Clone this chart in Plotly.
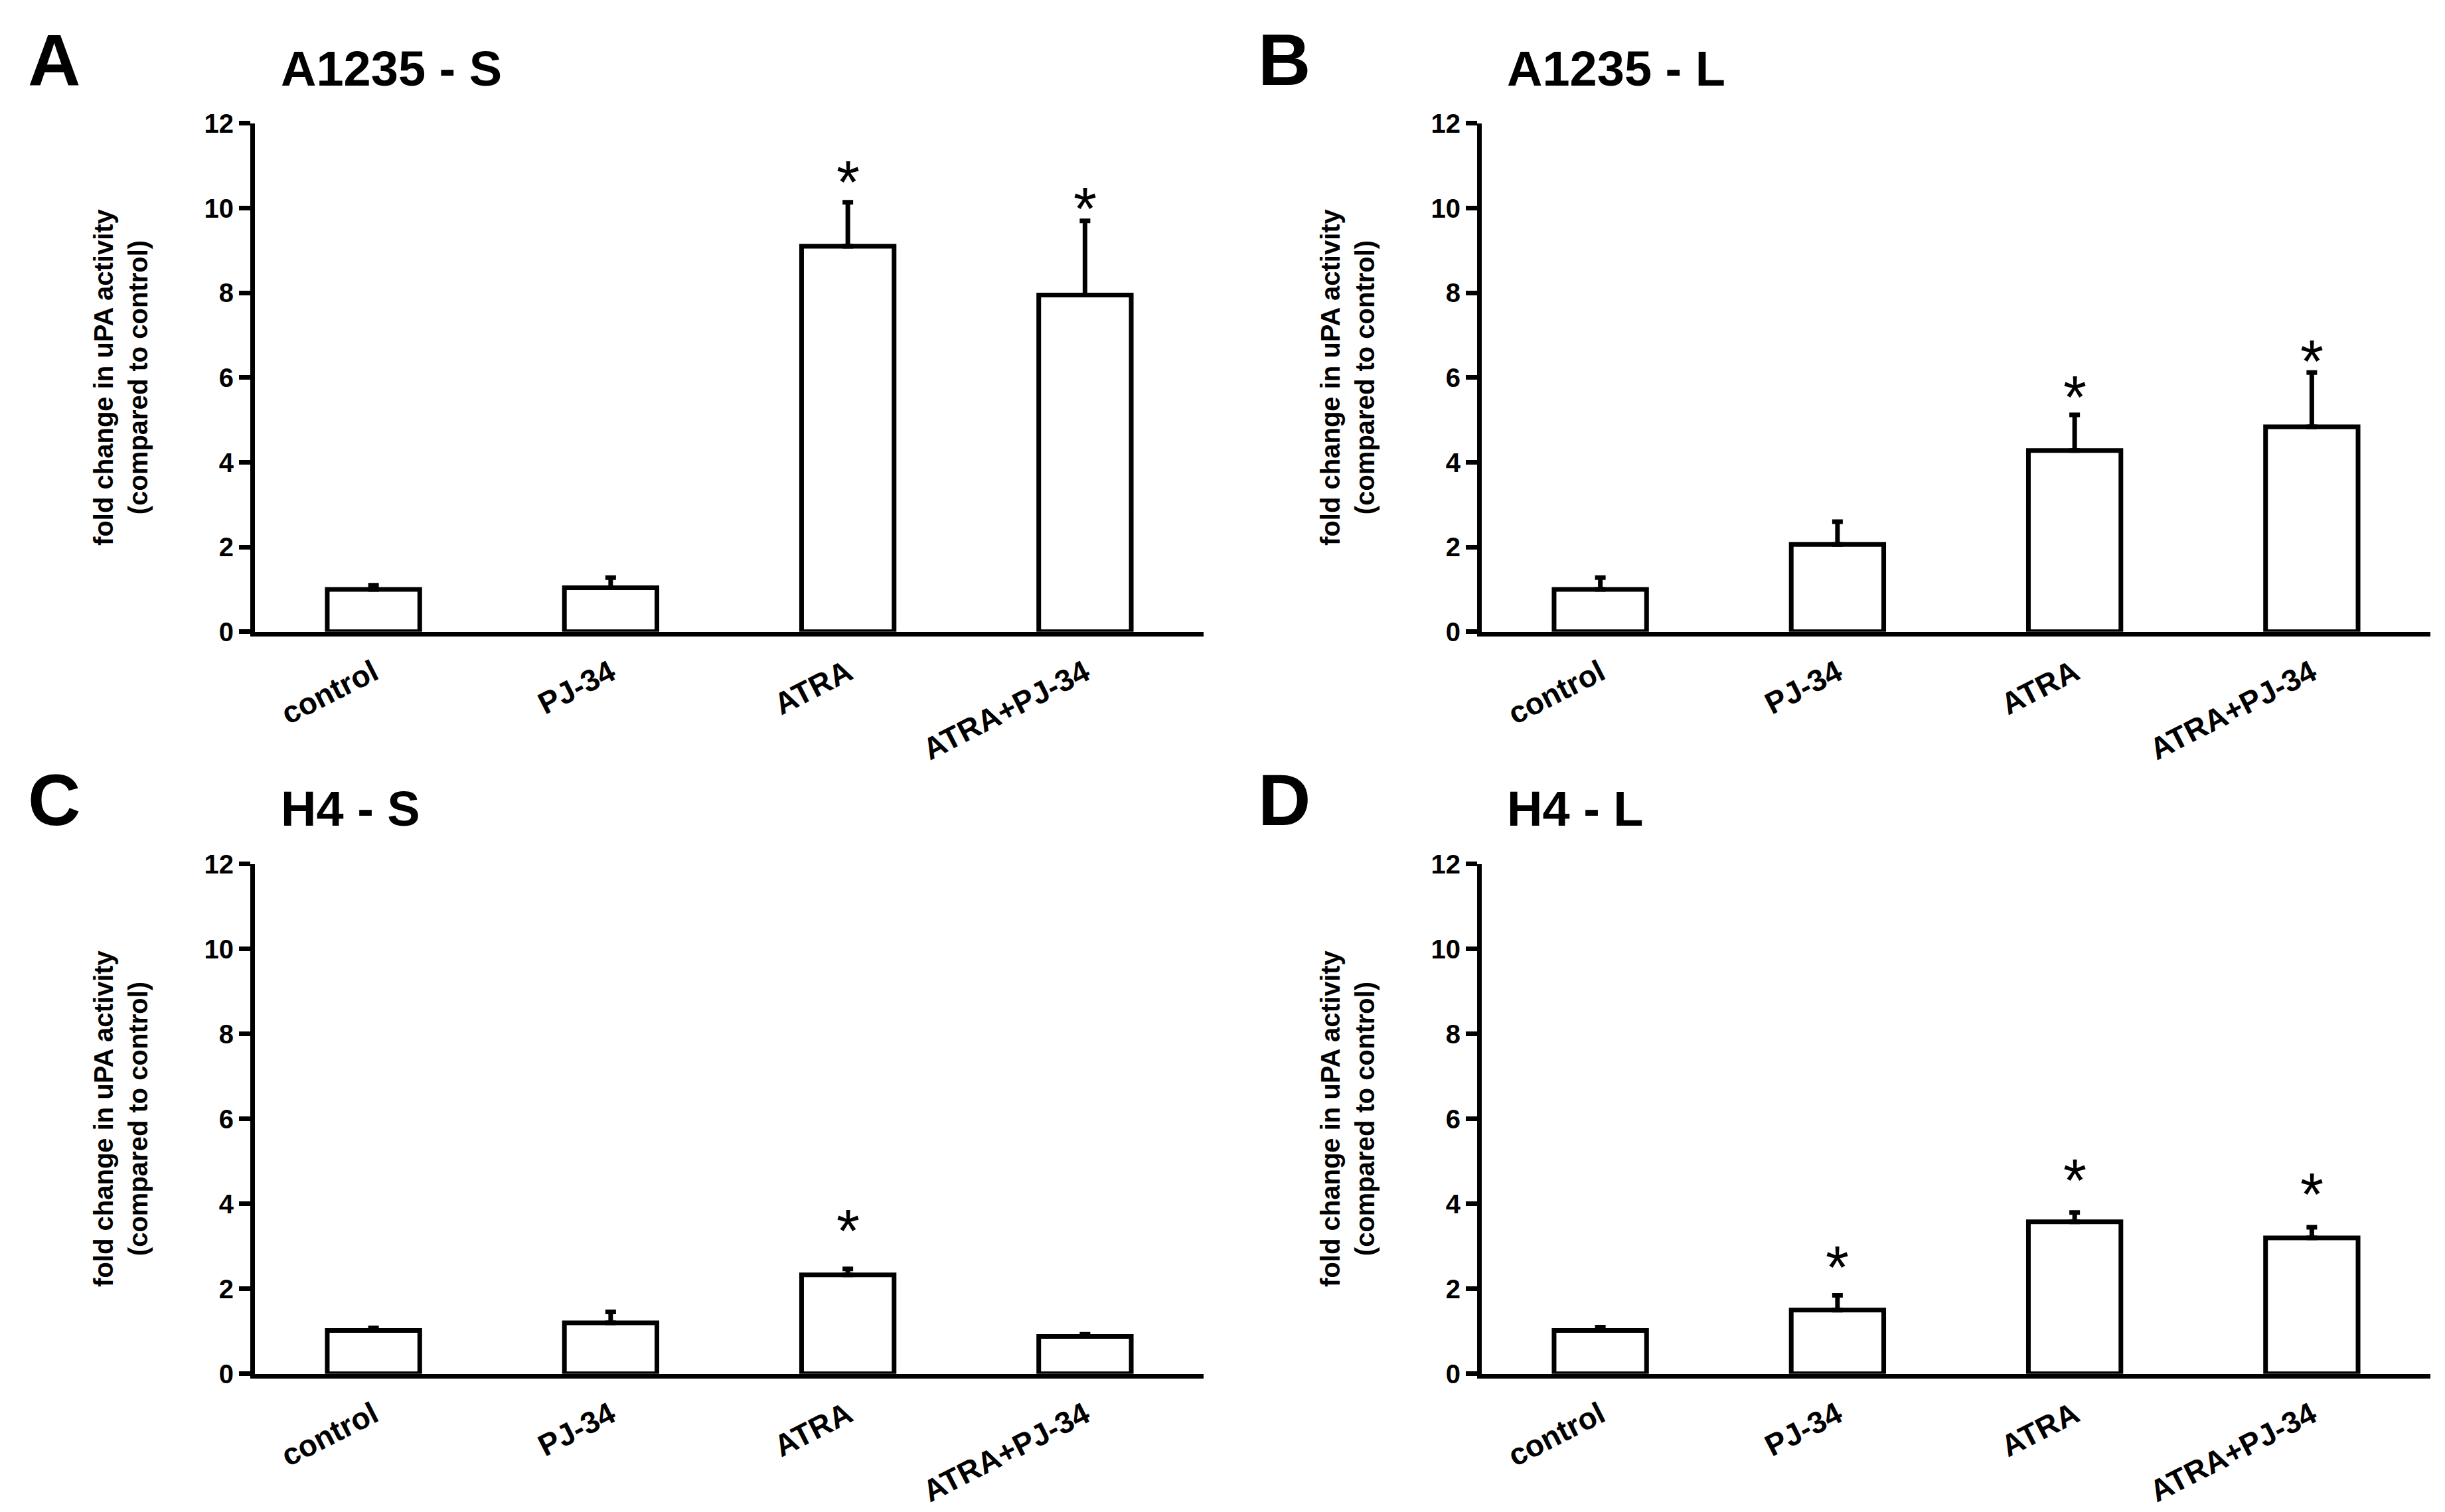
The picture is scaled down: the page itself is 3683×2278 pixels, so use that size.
import plotly.graph_objects as go
from plotly.subplots import make_subplots

# treatment groups
categories = ["control", "PJ-34", "ATRA", "ATRA+PJ-34"]

# panel A: A1235 - S
a_mean = [1.0, 1.04, 9.1, 7.95]
a_top = [1.1, 1.28, 10.14, 9.7]
a_star = [None, None, 10.94, 10.3]

# panel B: A1235 - L
b_mean = [1.0, 2.06, 4.28, 4.84]
b_top = [1.28, 2.6, 5.12, 6.12]
b_star = [None, None, 5.85, 6.7]

# panel C: H4 - S
c_mean = [1.02, 1.2, 2.33, 0.88]
c_top = [1.08, 1.46, 2.47, 0.93]
c_star = [None, None, 3.68, None]

# panel D: H4 - L
d_mean = [1.02, 1.5, 3.58, 3.2]
d_top = [1.1, 1.85, 3.8, 3.45]
d_star = [None, 2.83, 4.87, 4.54]

panels = [
    ("A", "A1235 - S", a_mean, a_top, a_star),
    ("B", "A1235 - L", b_mean, b_top, b_star),
    ("C", "H4 - S", c_mean, c_top, c_star),
    ("D", "H4 - L", d_mean, d_top, d_star),
]

W, H = 3683, 2278
FONT = "Liberation Sans, Arial, sans-serif"

fig = make_subplots(rows=2, cols=2)

# plot area edges in pixels (left, right) and (top, bottom)
x_dom = [(376, 1805), (2224, 3653)]
y_dom = [(159, 940), (1297, 2080)]

for i, (letter, title, mean, top, star) in enumerate(panels):
    r, c = i // 2 + 1, i % 2 + 1
    err = [t - m for t, m in zip(top, mean)]
    fig.add_trace(go.Bar(
        x=categories, y=mean, width=0.39,
        marker=dict(color="white", line=dict(color="black", width=7)),
        error_y=dict(type="data", symmetric=False, array=err,
                     arrayminus=[0] * len(err), color="black",
                     thickness=7, width=8),
    ), row=r, col=c)

    xl, xr = x_dom[c - 1]
    yt, yb = y_dom[r - 1]
    fig.update_xaxes(domain=[xl / W, xr / W], range=[-0.5, 3.5],
                     showline=True, linecolor="black", linewidth=7,
                     ticks="", showgrid=False, zeroline=False,
                     tickangle=-27, ticklabelstandoff=10,
                     tickfont=dict(family=FONT, size=46, color="black", weight="bold"),
                     row=r, col=c)
    fig.update_yaxes(domain=[1 - yb / H, 1 - yt / H], range=[0, 12],
                     tickvals=[0, 2, 4, 6, 8, 10, 12],
                     showline=True, linecolor="black", linewidth=7,
                     ticks="outside", ticklen=17, tickwidth=7, tickcolor="black",
                     showgrid=False, zeroline=False,
                     tickfont=dict(family=FONT, size=40, color="black", weight="bold"),
                     row=r, col=c)

    xref = "x" if i == 0 else f"x{i + 1}"
    yref = "y" if i == 0 else f"y{i + 1}"

    # significance asterisks
    for cat, s in zip(categories, star):
        if s is not None:
            fig.add_annotation(x=cat, y=s, xref=xref, yref=yref, text="*",
                               showarrow=False, yshift=-21,
                               font=dict(family=FONT, size=90, color="black"))

    # panel letter and title
    fig.add_annotation(x=(73 if c == 1 else 1926) / W, y=1 - (61 + (r - 1) * 1137) / H,
                       xref="paper", yref="paper", text=letter, showarrow=False,
                       xanchor="center", yanchor="middle",
                       font=dict(family=FONT, size=110, color="black", weight="bold"))
    fig.add_annotation(x=(413 if c == 1 else 2260) / W, y=1 - (75 + (r - 1) * 1137) / H,
                       xref="paper", yref="paper", text=title, showarrow=False,
                       xanchor="left", yanchor="middle",
                       font=dict(family=FONT, size=74, color="black", weight="bold"))

    # y axis title
    fig.add_annotation(x=(174 if c == 1 else 2022) / W, y=1 - (yt + yb) / 2 / H,
                       xref="paper", yref="paper",
                       text="fold change in uPA activity<br>(compared to control)",
                       showarrow=False, textangle=-90,
                       xanchor="center", yanchor="middle",
                       font=dict(family=FONT, size=40, color="black", weight="bold"))

fig.update_layout(
    width=W, height=H,
    margin=dict(l=0, r=0, t=0, b=0),
    plot_bgcolor="white", paper_bgcolor="white",
    showlegend=False,
)

fig.write_html("out.html")
